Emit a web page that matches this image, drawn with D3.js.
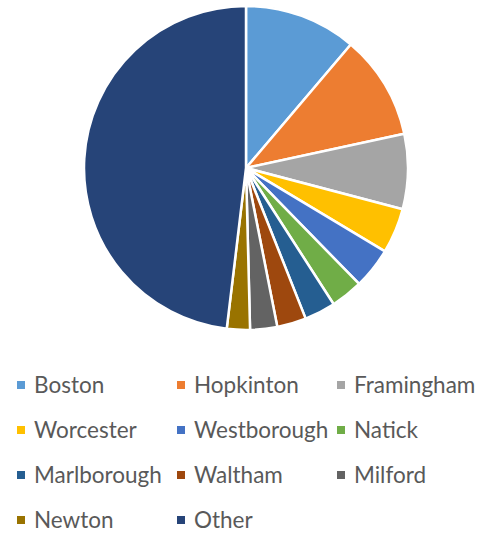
<!DOCTYPE html>
<html>
<head>
<meta charset="utf-8">
<script src="https://cdn.jsdelivr.net/npm/d3@7"></script>
<style>
  body { margin: 0; background: #fff; }
  svg { display: block; }
</style>
</head>
<body>
<script>
// data
let towns = ["Boston", "Hopkinton", "Framingham", "Worcester", "Westborough", "Natick",
             "Marlborough", "Waltham", "Milford", "Newton", "Other"]
let shares = [11.2, 10.4, 7.5, 4.5, 4.1, 3.2, 3.1, 2.9, 2.7, 2.3, 48.1]
let colors = ["#5B9BD5", "#ED7D31", "#A5A5A5", "#FFC000", "#4472C4", "#70AD47",
              "#255E91", "#9E480E", "#636363", "#997300", "#264478"]

let width = 482
let height = 533
let radius = 162
let cx = 246, cy = 168

let color = d3.scaleOrdinal().domain(towns).range(colors)

let svg = d3.select("body")
    .append("svg")
    .attr("width", width)
    .attr("height", height)

let data = towns.map((t, i) => ({town: t, value: shares[i]}))

let pie = d3.pie()
    .sort(null)
    .value(d => d.value)

let arc = d3.arc()
    .outerRadius(radius)
    .innerRadius(0)

let g = svg.append("g")
    .attr("transform", "translate(" + cx + "," + cy + ")")

g.selectAll("path")
  .data(pie(data))
  .enter()
  .append("path")
  .attr("d", arc)
  .attr("fill", d => color(d.data.town))
  .attr("stroke", "#fff")
  .attr("stroke-width", 2.5)
  .attr("stroke-linejoin", "round")

// legend, 3 columns
let colX = d3.scaleOrdinal().domain([0, 1, 2]).range([17, 177, 337])
let rowY = d3.scaleLinear().domain([0, 1]).range([385, 430])

let item = svg.append("g").selectAll("g")
  .data(towns)
  .enter()
  .append("g")
  .attr("transform", (d, i) => "translate(" + colX(i % 3) + "," + rowY(Math.floor(i / 3)) + ")")

item.append("rect")
  .attr("x", 0)
  .attr("y", -4)
  .attr("width", 8)
  .attr("height", 8)
  .attr("fill", d => color(d))

item.append("text")
  .attr("x", 17)
  .attr("dy", "0.35em")
  .attr("font-family", "Lato, 'Open Sans', sans-serif")
  .attr("font-size", 22.5)
  .attr("fill", "#595959")
  .text(d => d)
</script>
</body>
</html>
